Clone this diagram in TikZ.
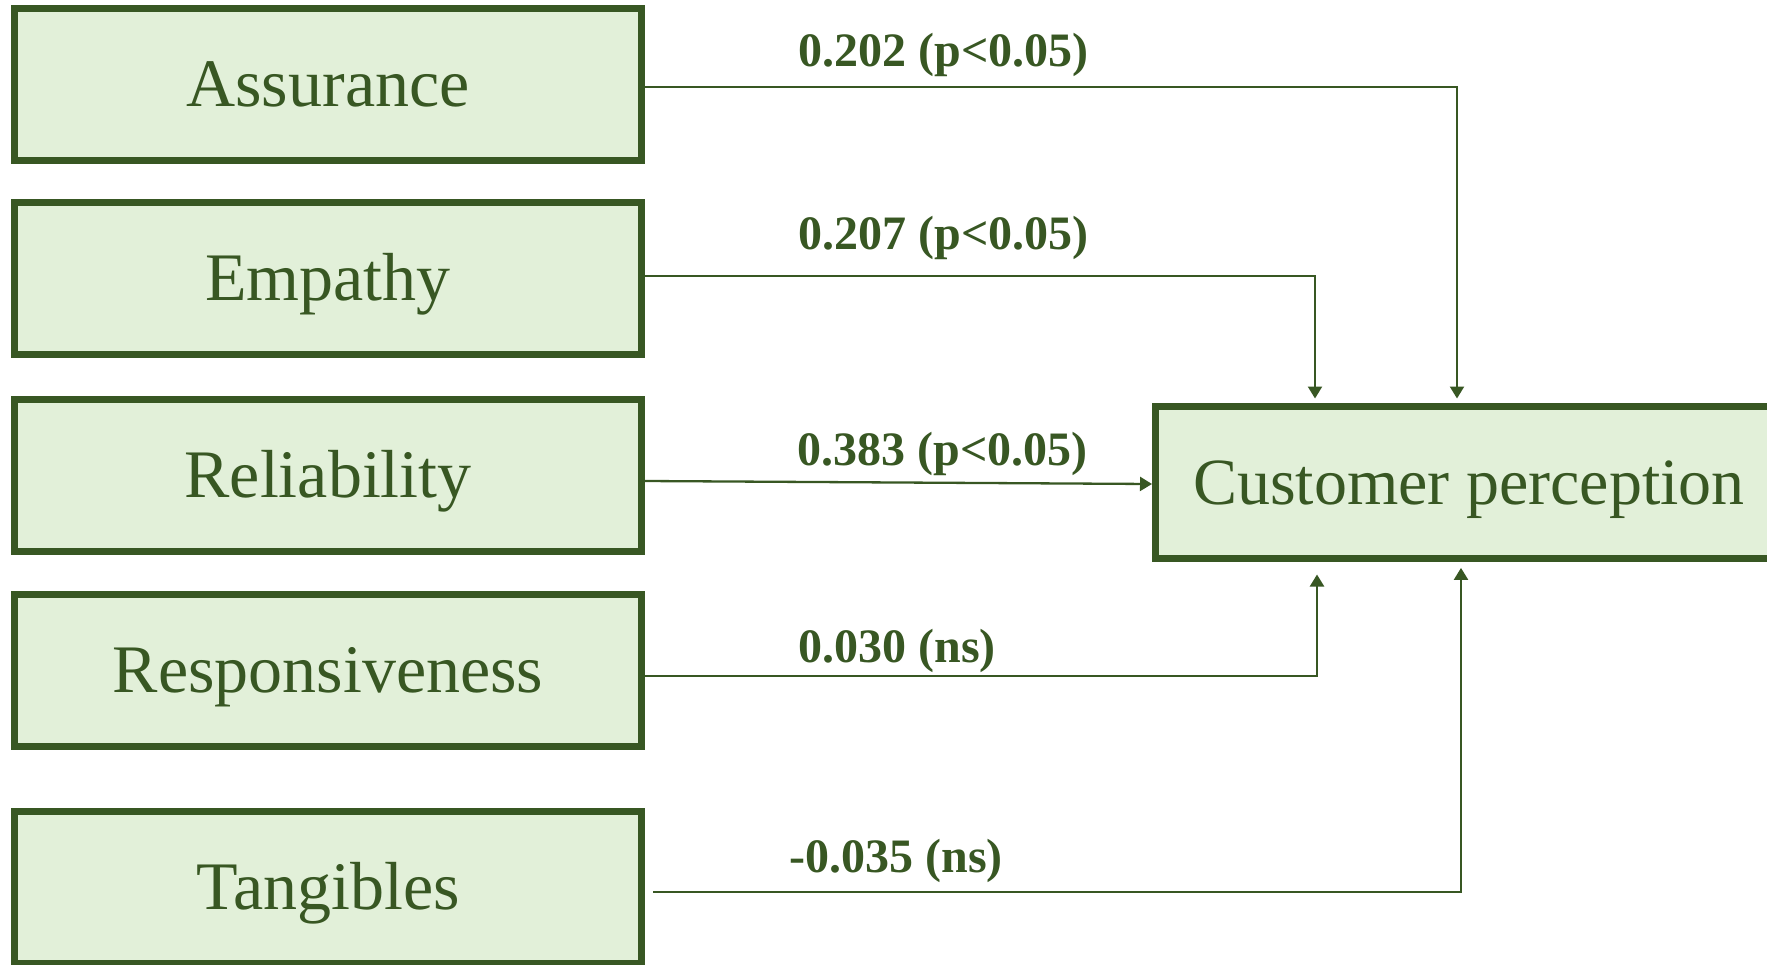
\documentclass[tikz,border=0pt]{standalone}
\usepackage{fontspec}
\setmainfont{Liberation Serif}
\usetikzlibrary{arrows.meta}
\definecolor{dgreen}{HTML}{385723}
\definecolor{lgreen}{HTML}{E2F0D9}
\tikzset{
  varbox/.style={draw=dgreen, fill=lgreen, line width=3.5pt, minimum width=313.5pt, minimum height=76pt, inner sep=0pt, text height=24pt, text depth=2pt, text=dgreen, font=\fontsize{34}{40}\selectfont},
  conn/.style={draw=dgreen, line width=1.15pt, -{Triangle[length=6pt,width=7pt]}},
  coef/.style={text=dgreen, font=\fontsize{24}{28}\selectfont\bfseries, anchor=base west, inner sep=0pt}
}
\begin{document}
\begin{tikzpicture}[x=0.5pt,y=-0.5pt]
\useasboundingbox (0,0) rectangle (1767,964);
\clip (0,0) rectangle (1767,964);
\node[varbox] (ass) at (328,84) {Assurance};
\node[varbox] (emp) at (328,278) {Empathy};
\node[varbox] (rel) at (328,475) {Reliability};
\node[varbox] (resp) at (328,670) {Responsiveness};
\node[varbox] (tan) at (328,887) {Tangibles};
\node[varbox, font=\fontsize{33}{40}\selectfont] (cp) at (1469,482) {Customer perception};

\draw[conn, shorten >=2pt] ([yshift=-1.5pt]ass.east) -| ([xshift=-6pt]cp.north);
\draw[conn, shorten >=2pt] ([yshift=1pt]emp.east) -| ([xshift=-77pt]cp.north);
\draw[conn] ([yshift=-3pt]rel.east) -- ([yshift=-1pt]cp.west);
\draw[conn, shorten >=6.5pt] ([yshift=-3pt]resp.east) -| ([xshift=-76pt]cp.south);
\draw[conn, shorten >=3.2pt, shorten <=4pt] ([yshift=-2.5pt]tan.east) -| ([xshift=-4pt]cp.south);

\node[coef] (l1) at (798,66) {0.202 (p<0.05)};
\node[coef] (l2) at (798,249) {0.207 (p<0.05)};
\node[coef] (l3) at (797,465) {0.383 (p<0.05)};
\node[coef] (l4) at (798,662) {0.030 (ns)};
\node[coef] (l5) at (789,872) {-0.035 (ns)};
\end{tikzpicture}
\end{document}
